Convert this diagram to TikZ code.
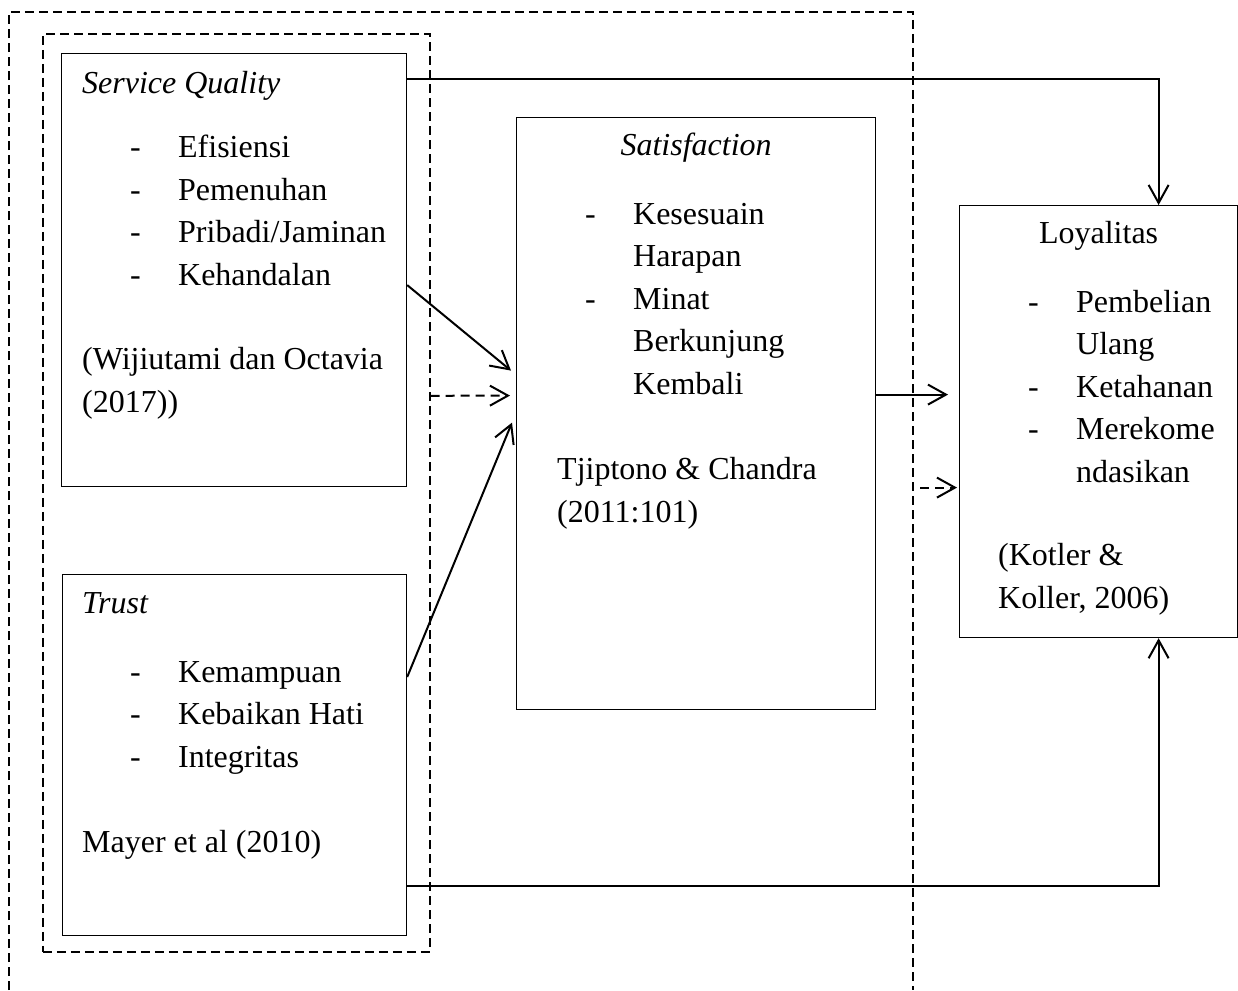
\documentclass[tikz,border=0pt]{standalone}
\usepackage{fontspec}
\setmainfont{Liberation Serif}
\usepackage{tikz}
\usetikzlibrary{positioning,arrows.meta,calc}
\newcommand{\dashitem}[1]{\makebox[48pt][l]{-}#1}
\tikzset{
    x=1pt,
    y=-1pt,
    block/.style = {
        draw,
        shape=rectangle,
        anchor=north west,
        inner sep=0pt,
        line width=1.2pt
    },
    group/.style = {
        draw,
        line width=1.6pt,
        dash pattern=on 9pt off 5pt
    },
    boxtext/.style = {
        anchor=base west,
        align=left,
        inner sep=0pt,
        font=\fontsize{32}{42.5}\selectfont
    },
    heading/.style = {
        boxtext,
        anchor=base,
        align=center
    },
    link/.style = {
        line width=2pt
    },
    dashlink/.style = {
        line width=2pt,
        dash pattern=on 9pt off 6pt
    },
    >={Straight Barb[length=18pt,width=20pt]},
}

\begin{document}
\begin{tikzpicture}
            \useasboundingbox (0,0) rectangle (1238,990);

            \node[block, group, minimum width=387pt, minimum height=918pt] (grp) at (42,33) {};
            \path[group] (9,990) |- (913,12) -- (913,990);

            \node[block, minimum width=345pt, minimum height=433pt] (sq) at (61,53) {};
            \node[block, minimum width=344pt, minimum height=361pt] (trust) at (62,574) {};
            \node[block, minimum width=359pt, minimum height=592pt] (sat) at (516,117) {};
            \node[block, minimum width=278pt, minimum height=432pt] (loy) at (959,205) {};

            \node[boxtext] (sqtitle) at ([shift={(21,40)}]sq.north west) {\textit{Service Quality}};
            \node[boxtext] (sqlist) at ([shift={(69,232)}]sq.north west) {\dashitem{Efisiensi}\\\dashitem{Pemenuhan}\\\dashitem{Pribadi/Jaminan}\\\dashitem{Kehandalan}};
            \node[boxtext] (sqsrc) at ([shift={(21,359)}]sq.north west) {(Wijiutami dan Octavia\\(2017))};

            \node[boxtext] (trusttitle) at ([shift={(20,39)}]trust.north west) {\textit{Trust}};
            \node[boxtext] (trustlist) at ([shift={(68,193)}]trust.north west) {\dashitem{Kemampuan}\\\dashitem{Kebaikan Hati}\\\dashitem{Integritas}};
            \node[boxtext] (trustsrc) at ([shift={(20,278)}]trust.north west) {Mayer et al (2010)};

            \node[heading] (sattitle) at ([yshift=-38pt]sat.north) {\textit{Satisfaction}};
            \node[boxtext] (satlist) at ([shift={(69,277)}]sat.north west) {\dashitem{Kesesuain}\\\hspace*{48pt}Harapan\\\dashitem{Minat}\\\hspace*{48pt}Berkunjung\\\hspace*{48pt}Kembali};
            \node[boxtext] (satsrc) at ([shift={(41,405)}]sat.north west) {Tjiptono \& Chandra\\(2011:101)};

            \node[heading] (loytitle) at ([yshift=-38pt]loy.north) {Loyalitas};
            \node[boxtext] (loylist) at ([shift={(69,277)}]loy.north west) {\dashitem{Pembelian}\\\hspace*{48pt}Ulang\\\dashitem{Ketahanan}\\\dashitem{Merekome}\\\hspace*{48pt}ndasikan};
            \node[boxtext] (loysrc) at ([shift={(39,403)}]loy.north west) {(Kotler \&\\Koller, 2006)};

            \path[draw, ->, link] ([yshift=-26pt]sq.north east) -| ([xshift=60pt]loy.north);
            \path[draw, ->, link] ([yshift=50pt]trust.south east) -| ([xshift=60pt]loy.south);

            \path[draw, ->, link] ([yshift=-15pt]sq.east) -- ([xshift=-5pt,yshift=43pt]sat.west);
            \path[draw, ->, link] ([yshift=-103pt]trust.north east) -- ([xshift=-4pt,yshift=-9pt]sat.west);
            \path[draw, ->, dashlink] ([yshift=97pt]grp.east) -- ([xshift=-6pt,yshift=18pt]sat.west);

            \path[draw, ->, link] ([yshift=19pt]sat.east) -- ([xshift=-11pt,yshift=27pt]loy.west);
            \path[draw, ->, dashlink] ([xshift=-39pt,yshift=-66pt]loy.west) -- ([xshift=-2pt,yshift=-66pt]loy.west);

        \end{tikzpicture}
\end{document}
